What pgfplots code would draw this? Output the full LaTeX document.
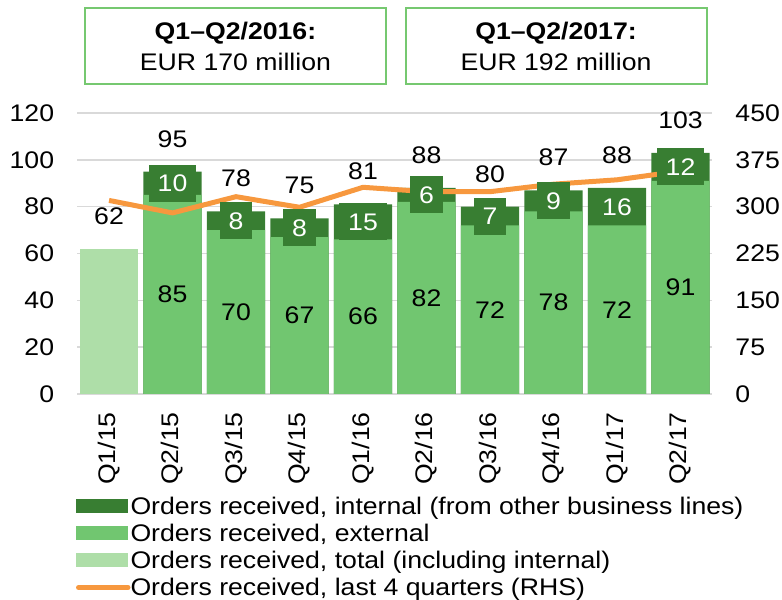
\documentclass[border=0pt]{standalone}
\usepackage{fontspec}
\setmainfont{Liberation Sans}[FakeStretch=1.11]
\usepackage{pgfplots}
\usepackage{pgfplotstable}
\pgfplotsset{compat=1.18}
\definecolor{dkgreen}{RGB}{56,126,50}
\definecolor{medgreen}{RGB}{113,198,112}
\definecolor{ltgreen}{RGB}{174,222,168}
\definecolor{lineorange}{RGB}{247,152,62}
\definecolor{boxgreen}{RGB}{118,200,112}
\definecolor{gridgray}{RGB}{217,217,217}
\pgfplotsset{/pgf/number format/assume math mode=true}
\pgfplotstableread{
x ext int tot rhs
0 0 0 62 310
1 85 10 95 290
2 70 8 78 316
3 67 8 75 299
4 66 15 81 331
5 82 6 88 324
6 72 7 80 324
7 78 9 87 336
8 72 16 88 343
9 91 12 103 357
}\data
\pgfplotsset{
  common/.style={
    scale only axis, width=635pt, height=281pt,
    xmin=-0.5, xmax=9.5,
    major tick length=0pt,
    tick style={draw=none},
  },
  lbl/.style={draw=none, mark=*, mark size=0pt,
    scatter/use mapped color={draw=none, fill=none},
    nodes near coords, point meta=explicit},
}
\newcommand{\legbox}{\path[draw=none, fill=none] (0pt,-11pt) rectangle (52pt,11pt);}
\begin{document}
\fontsize{24}{28}\selectfont
\begin{tikzpicture}
% axis 1: bars
\begin{axis}[common,
  ymin=0, ymax=120, ytick={0,20,...,120},
  axis x line*=bottom, axis y line*=left,
  x axis line style={draw=gridgray, line width=2pt},
  y axis line style={draw=none},
  ymajorgrids, grid style={draw=gridgray, line width=1.5pt},
  xtick={0,...,9},
  xticklabels={Q1/15,Q2/15,Q3/15,Q4/15,Q1/16,Q2/16,Q3/16,Q4/16,Q1/17,Q2/17},
  xticklabel style={rotate=90, anchor=east, inner sep=0pt},
  xticklabel shift=18pt,
  yticklabel style={inner sep=0pt},
  yticklabel shift=23pt,
  legend style={at={(rel axis cs:-0.002,-0.370)}, anchor=north west,
    draw=none, fill=none, inner sep=0pt, outer sep=0pt,
    row sep=4.7pt, column sep=0pt,
    nodes={inner sep=0pt, text height=17pt, text depth=5pt}},
  legend cell align=left,
]
\addplot[ybar, bar width=0.915, bar shift=0pt, fill=dkgreen, draw=none, forget plot,
  skip coords between index={0}{1}] table[x=x, y=tot]{\data};
\addplot[ybar, bar width=0.915, bar shift=0pt, fill=medgreen, draw=none, forget plot,
  skip coords between index={0}{1}] table[x=x, y=ext]{\data};
\addplot[ybar, bar width=0.915, bar shift=0pt, fill=ltgreen, draw=none, forget plot,
  skip coords between index={1}{10}] table[x=x, y=tot]{\data};
\addlegendimage{legend image code/.code={\legbox \fill[dkgreen, draw=none] (0pt,-4.5pt) rectangle (52pt,9.5pt);}}
\addlegendentry{Orders received, internal (from other business lines)}
\addlegendimage{legend image code/.code={\legbox \fill[medgreen, draw=none] (0pt,-4.5pt) rectangle (52pt,9.5pt);}}
\addlegendentry{Orders received, external}
\addlegendimage{legend image code/.code={\legbox \fill[ltgreen, draw=none] (0pt,-4.5pt) rectangle (52pt,9.5pt);}}
\addlegendentry{Orders received, total (including internal)}
\addlegendimage{legend image code/.code={\legbox \draw[lineorange, line width=5pt, line cap=round] (2.5pt,1.5pt) -- (52pt,1.5pt);}}
\addlegendentry{Orders received, last 4 quarters (RHS)}
\coordinate (bbsw) at (rel axis cs:-0.1217,-0.7331);
\coordinate (bbne) at (rel axis cs:1.1098,1.4021);
\end{axis}
% axis 2: line on RHS
\begin{axis}[common,
  ymin=0, ymax=450, ytick={0,75,...,450},
  axis y line*=right, axis x line=none,
  y axis line style={draw=none},
  yticklabel style={inner sep=0pt},
  yticklabel shift=23pt,
]
\addplot[lineorange, line width=5pt, line join=round, mark=none] table[x=x, y=rhs]{\data};
\end{axis}
% axis 3: data labels and header boxes
\begin{axis}[common, hide axis, ymin=0, ymax=120, clip=false]
\addplot[lbl, every node near coord/.append style={anchor=center, inner sep=0pt, text=black}]
  table[x=x, y expr=\thisrow{tot}+14, meta=tot]{\data};
\addplot[lbl, skip coords between index={0}{1},
  every node near coord/.append style={anchor=center, inner sep=0pt, text=black}]
  table[x=x, y expr=\thisrow{ext}/2, meta=ext]{\data};
\addplot[lbl, skip coords between index={0}{1},
  every node near coord/.append style={anchor=center, fill=dkgreen, text=white,
    inner xsep=9pt, inner ysep=10pt, text height=17pt, text depth=0pt}]
  table[x=x, y expr=(\thisrow{ext}+\thisrow{tot})/2, meta=int]{\data};
\node[draw=boxgreen, line width=2pt, minimum width=301pt, minimum height=76pt, align=center, inner sep=0pt]
  at (rel axis cs:0.2491,1.2384) {\textbf{Q1--Q2/2016:}\\[3pt]EUR 170 million};
\node[draw=boxgreen, line width=2pt, minimum width=301pt, minimum height=76pt, align=center, inner sep=0pt]
  at (rel axis cs:0.7539,1.2384) {\textbf{Q1--Q2/2017:}\\[3pt]EUR 192 million};
\end{axis}
\pgfresetboundingbox
\path[use as bounding box] (bbsw) rectangle (bbne);
\end{tikzpicture}
\end{document}
